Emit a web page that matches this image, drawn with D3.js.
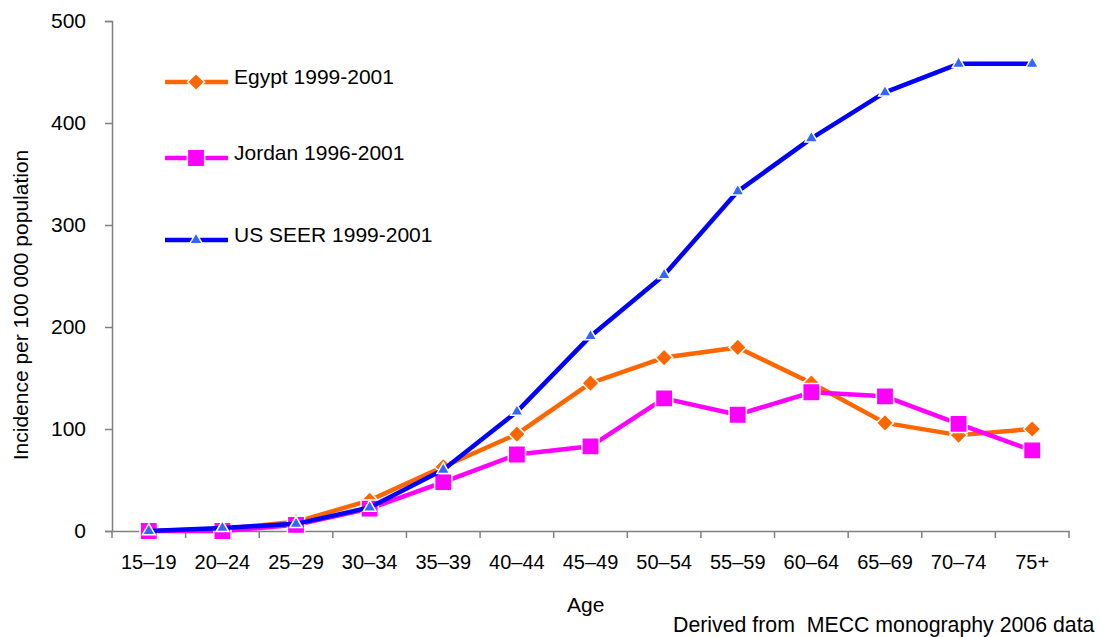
<!DOCTYPE html>
<html><head><meta charset="utf-8">
<script src="https://cdn.jsdelivr.net/npm/d3@7/dist/d3.min.js"></script>
<style>body{margin:0;background:#fff;}svg text{font-family:Arial,"Liberation Sans",sans-serif;fill:#000;white-space:pre;}</style>
</head><body>
<svg id="c" width="1101" height="637"></svg>
<script>
const categories = ["15–19","20–24","25–29","30–34","35–39","40–44","45–49","50–54","55–59","60–64","65–69","70–74","75+"];
const egypt  = [0, 2, 9, 30, 63, 95, 145, 170, 180, 145, 106, 94, 100];
const jordan = [0, 0, 6, 22, 48, 75, 83, 130, 114, 136, 132, 105, 79];
const usSeer = [0, 3, 7, 23, 60, 117, 191, 251, 333, 385, 430, 458, 458];
const yTicks = [0, 100, 200, 300, 400, 500];
const seriesNames = ["Egypt 1999-2001", "Jordan 1996-2001", "US SEER 1999-2001"];

const svg = d3.select("#c");
const x0 = 112, x1 = 1069, yTop = 21, yBot = 531;
const x = d3.scaleBand().domain(categories).range([x0, x1]);
const y = d3.scaleLinear().domain([0, 500]).range([yBot, yTop]);
const cx = d => x(d) + x.bandwidth() / 2;

// Y axis
const yAxis = svg.append("g").attr("transform", `translate(${x0},0)`)
  .call(d3.axisLeft(y).tickValues(yTicks).tickSize(7).tickPadding(19));
yAxis.select(".domain").attr("stroke", "#808080").attr("stroke-width", 1.5);
yAxis.selectAll(".tick line").attr("stroke", "#808080").attr("stroke-width", 1.5);
yAxis.selectAll("text").style("font-size", "21px").attr("font-family", null);

// X axis
const xAxis = svg.append("g").attr("transform", `translate(0,${yBot})`)
  .call(d3.axisBottom(x).tickSize(0).tickPadding(24).tickSizeOuter(0));
xAxis.select(".domain").attr("stroke", "#808080").attr("stroke-width", 1.5);
xAxis.selectAll("text").style("font-size", "20px").attr("font-family", null);
// boundary ticks
const bounds = categories.map(c => x(c)).concat([x1]);
svg.append("g").selectAll("line").data(bounds).join("line")
  .attr("x1", d => d).attr("x2", d => d).attr("y1", yBot).attr("y2", yBot + 7)
  .attr("stroke", "#808080").attr("stroke-width", 1.5);

// titles
svg.append("text").attr("x", 567).attr("y", 612).style("font-size", "21px").text("Age");
svg.append("text").attr("transform", "translate(28,305) rotate(-90)").attr("text-anchor", "middle")
  .style("font-size", "21px").text("Incidence per 100 000 population");
svg.append("text").attr("x", 673).attr("y", 632).style("font-size", "21.3px").text("Derived from  MECC monography 2006 data");

const line = d3.line().x((d, i) => cx(categories[i])).y(d => y(d));

function drawSeries(vals, color, shape, size, fill) {
  svg.append("path").datum(vals).attr("d", line).attr("fill", "none")
    .attr("stroke", color).attr("stroke-width", 4.5).attr("stroke-linejoin", "round");
  svg.append("g").selectAll("path").data(vals).join("path")
    .attr("transform", (d, i) => `translate(${cx(categories[i])},${y(d)})`)
    .attr("d", d3.symbol().type(shape).size(size))
    .attr("fill", fill).attr("stroke", "#fff").attr("stroke-width", 1.5);
}
const colors = ["#FF6600", "#FF00FF", "#0000FF"];
const fills = ["#FF6600", "#FF00FF", "#3366FF"];
const shapes = [d3.symbolDiamond2, d3.symbolSquare, d3.symbolTriangle];
const sizes = [190, 300, 70];
drawSeries(egypt, colors[0], shapes[0], sizes[0], fills[0]);
drawSeries(jordan, colors[1], shapes[1], sizes[1], fills[1]);
drawSeries(usSeer, colors[2], shapes[2], sizes[2], fills[2]);

// legend
const legY = [82, 158, 240];
seriesNames.forEach((name, i) => {
  const g = svg.append("g");
  g.append("line").attr("x1", 165).attr("x2", 228).attr("y1", legY[i]).attr("y2", legY[i])
    .attr("stroke", colors[i]).attr("stroke-width", 4.5);
  g.append("path").attr("transform", `translate(196,${legY[i]})`)
    .attr("d", d3.symbol().type(shapes[i]).size(sizes[i]))
    .attr("fill", fills[i]).attr("stroke", "#fff").attr("stroke-width", 1.5);
  g.append("text").attr("x", 234).attr("y", legY[i] + 2).style("font-size", "21px").text(name);
});
</script>
</body></html>
